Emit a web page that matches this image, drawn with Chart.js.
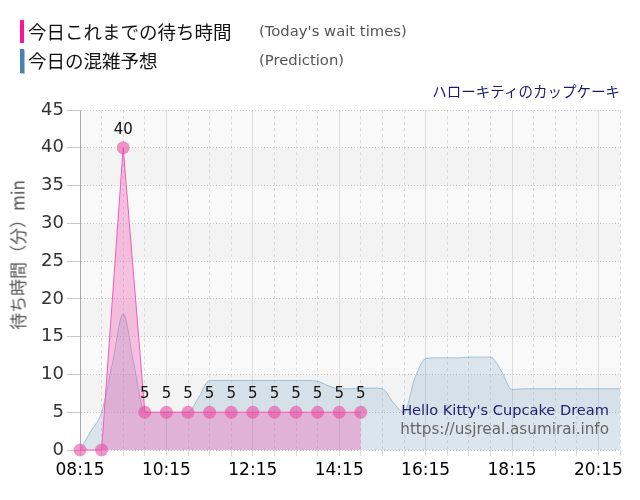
<!DOCTYPE html>
<html>
<head>
<meta charset="utf-8">
<script src="https://cdn.jsdelivr.net/npm/chart.js@4/dist/chart.umd.min.js"></script>
<style>
  body{margin:0;background:#fff;}
  #wrap{position:relative;width:640px;height:500px;overflow:hidden;}
  #c{position:absolute;left:0;top:0;}
  .ov{position:absolute;white-space:nowrap;line-height:1;}
  .bar{position:absolute;width:4px;}
  .jp{font-family:"Noto Sans CJK JP",sans-serif;}
  .en{font-family:"DejaVu Sans",sans-serif;}
</style>
</head>
<body>
<div id="wrap">
  <canvas id="c" width="640" height="500"></canvas>

  <!-- legend -->
  <div class="bar" style="left:20px;top:20px;height:23px;background:#ff1493;"></div>
  <div class="ov jp" style="left:28px;top:22px;font-size:18.5px;color:#111;">今日これまでの待ち時間</div>
  <div class="ov en" style="left:259px;top:24px;font-size:14.8px;color:#555;">(Today's wait times)</div>
  <div class="bar" style="left:20px;top:49px;height:24px;background:#4682b4;box-shadow:1px 1px 0 #bbb;"></div>
  <div class="ov jp" style="left:28px;top:51px;font-size:18.5px;color:#111;">今日の混雑予想</div>
  <div class="ov en" style="left:259px;top:53px;font-size:14.8px;color:#555;">(Prediction)</div>

  <!-- title -->
  <div class="ov jp" style="right:20px;top:84px;font-size:14.5px;color:#1c1c6e;">ハローキティのカップケーキ</div>

  <!-- y axis title -->
  <div class="ov jp" style="left:17px;top:255px;font-size:17px;color:#555;transform:translate(-50%,-50%) rotate(-90deg);">待ち時間（分）min</div>

  <!-- watermark -->
  <div class="ov en" style="right:31px;top:403px;font-size:14.6px;color:#22226e;">Hello Kitty's Cupcake Dream</div>
  <div class="ov en" style="right:31px;top:422px;font-size:15.2px;color:#666;">https://usjreal.asumirai.info</div>
</div>

<script>
/* ---------- Data ---------- */
// today's actual wait times (every 30 min)
const waitTimes  = ["08:15","08:45","09:15","09:45","10:15","10:45","11:15","11:45","12:15","12:45","13:15","13:45","14:15","14:45"];
const waitValues = [0, 0, 40, 5, 5, 5, 5, 5, 5, 5, 5, 5, 5, 5];

// prediction (every 15 min)
const predTimes = [
  "08:15","08:30","08:45","09:00","09:15","09:30","09:45","10:00","10:15","10:30",
  "10:45","11:00","11:15","11:30","11:45","12:00","12:15","12:30","12:45","13:00",
  "13:15","13:30","13:45","14:00","14:15","14:30","14:45","15:00","15:15","15:30",
  "15:45","16:00","16:15","16:30","16:45","17:00","17:15","17:30","17:45","18:00",
  "18:15","18:30","18:45","19:00","19:15","19:30","19:45","20:00","20:15","20:30","20:45"
];
const predValues = [
  0, 2.5, 5, 11.5, 18, 11.3, 5, 5, 5, 5,
  5, 7, 9.2, 9.2, 9.2, 9.2, 9.2, 9.2, 9.2, 9.2,
  9.2, 9.2, 9.1, 8.5, 8.1, 8.1, 8.2, 8.2, 8.1, 6.3,
  5, 9.5, 12.1, 12.2, 12.2, 12.2, 12.3, 12.3, 12.3, 10.5,
  8.0, 8.1, 8.1, 8.1, 8.1, 8.1, 8.1, 8.1, 8.1, 8.1, 8.1
];

// axis
const xStart = "08:15", xEnd = "20:45";
const xTickLabels = ["08:15","10:15","12:15","14:15","16:15","18:15","20:15"];
const gridTimes = [
  "08:15","08:45","09:15","09:45","10:15","10:45","11:15","11:45","12:15","12:45",
  "13:15","13:45","14:15","14:45","15:15","15:45","16:15","16:45","17:15","17:45",
  "18:15","18:45","19:15","19:45","20:15","20:45"
];
const yMax = 45, yStep = 5;

/* ---------- Helpers ---------- */
const toMin = s => { const [h,m] = s.split(":").map(Number); return h*60+m; };
const toHHMM = v => String(Math.floor(v/60)).padStart(2,"0")+":"+String(v%60).padStart(2,"0");
const majorSet = new Set(xTickLabels.map(toMin));

/* ---------- Plugins ---------- */
const bands = {
  id:"bands",
  beforeDraw(chart){
    const {ctx, chartArea:a, scales:{y}} = chart;
    ctx.save();
    for(let v=0; v<yMax; v+=yStep){
      const top = y.getPixelForValue(v+yStep), bot = y.getPixelForValue(v);
      ctx.fillStyle = (v/yStep)%2 ? "#f3f3f3" : "#f9f9f9";
      ctx.fillRect(a.left, top, a.right-a.left, bot-top);
    }
    ctx.restore();
  }
};
const valueLabels = {
  id:"valueLabels",
  afterDatasetsDraw(chart){
    const ctx = chart.ctx, meta = chart.getDatasetMeta(0);
    ctx.save();
    ctx.font = '15px "DejaVu Sans"';
    ctx.fillStyle = "#111";
    ctx.textAlign = "center";
    ctx.textBaseline = "middle";
    meta.data.forEach((pt,i)=>{
      if(waitValues[i] > 0) ctx.fillText(String(waitValues[i]), pt.x, pt.y-18);
    });
    ctx.restore();
  }
};

/* ---------- Chart ---------- */
new Chart(document.getElementById("c"),{
  type:"line",
  data:{
    datasets:[
      {
        label:"今日これまでの待ち時間",
        data:waitTimes.map((t,i)=>({x:toMin(t), y:waitValues[i]})),
        borderColor:"#f75cb0",
        borderWidth:1,
        backgroundColor:"rgba(240,70,170,0.32)",
        fill:"origin",
        tension:0,
        pointRadius:6.5,
        pointBackgroundColor:"rgba(232,72,160,0.58)",
        pointBorderWidth:0,
        clip:false
      },
      {
        label:"今日の混雑予想",
        data:predTimes.map((t,i)=>({x:toMin(t), y:predValues[i]})),
        borderColor:"rgba(70,130,180,0.4)",
        borderWidth:1,
        backgroundColor:"rgba(70,130,180,0.17)",
        fill:"origin",
        cubicInterpolationMode:"monotone",
        pointRadius:0
      }
    ]
  },
  options:{
    responsive:false,
    animation:false,
    layout:{padding:{top:110,right:20,bottom:0,left:0}},
    plugins:{legend:{display:false},tooltip:{enabled:false}},
    scales:{
      x:{
        type:"linear",
        min:toMin(xStart), max:toMin(xEnd),
        afterBuildTicks(s){ s.ticks = gridTimes.map(t=>({value:toMin(t)})); },
        afterFit(s){ s.height = 50; },
        ticks:{
          autoSkip:false, maxRotation:0, padding:4, color:"#000",
          font:{family:"DejaVu Sans", size:17},
          callback:v => majorSet.has(v) ? toHHMM(v) : ""
        },
        grid:{
          color:"#dcdcdc",
          tickLength:6,
          drawTicks:true
        },
        border:{display:false, dash:c => (c.tick && !majorSet.has(c.tick.value)) ? [3,3] : []}
      },
      y:{
        min:0, max:yMax,
        afterFit(s){ s.width = 80; },
        ticks:{stepSize:yStep, padding:3, color:"#333", font:{family:"DejaVu Sans", size:18}},
        grid:{color:"#c8c8c8", tickLength:13},
        border:{display:true, color:"#aaa", width:1, dash:c => c.tick ? [1,2] : []}
      }
    }
  },
  plugins:[bands, valueLabels]
});
</script>
</body>
</html>
